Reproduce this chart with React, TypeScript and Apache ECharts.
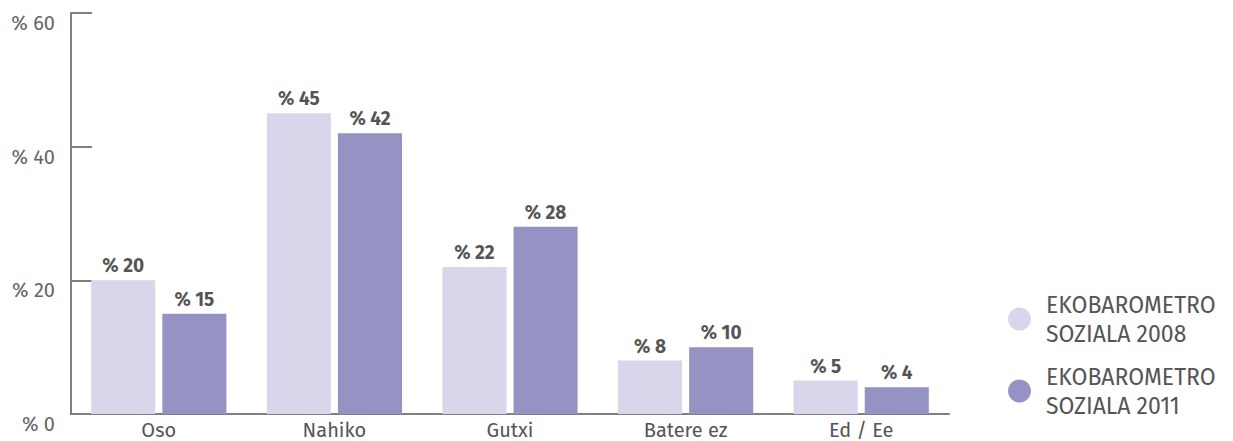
import React, { useEffect, useRef } from "react";
import * as echarts from "echarts";

const categories = ["Oso", "Nahiko", "Gutxi", "Batere ez", "Ed / Ee"];
const series2008 = [20, 45, 22, 8, 5];
const series2011 = [15, 42, 28, 10, 4];
const seriesNames = ["EKOBAROMETRO\nSOZIALA 2008", "EKOBAROMETRO\nSOZIALA 2011"];
const colors = ["#d8d6ea", "#9493c3"];

export default function App() {
  const ref = useRef<HTMLDivElement>(null);
  useEffect(() => {
    if (!ref.current) return;
    const chart = echarts.init(ref.current, null, { renderer: "svg" });
    const font = "'Fira Sans', 'Open Sans', sans-serif";
    const label = {
      show: true,
      position: "top",
      distance: 5,
      formatter: (p: any) => "% " + p.value,
      fontFamily: font,
      fontWeight: "bold",
      fontSize: 19,
      color: "#555555",
    };
    chart.setOption({
      animation: false,
      grid: { left: 71, right: 284, top: 13, bottom: 27, containLabel: false },
      legend: {
        orient: "vertical",
        left: 1008,
        top: 290,
        padding: 0,
        itemWidth: 23,
        itemHeight: 23,
        itemGap: 14,
        icon: "circle",
        textStyle: {
          fontFamily: font,
          fontSize: 23,
          color: "#555555",
          lineHeight: 29,
          padding: [0, 0, 0, 10],
        },
        data: seriesNames,
      },
      xAxis: {
        type: "category",
        data: categories,
        axisLine: { lineStyle: { color: "#7f7f7f", width: 2 } },
        axisTick: { show: false },
        axisLabel: { fontFamily: font, fontSize: 20, color: "#555555", margin: 6 },
      },
      yAxis: {
        type: "value",
        min: 0,
        max: 60,
        interval: 20,
        splitLine: { show: false },
        axisLine: { show: true, lineStyle: { color: "#7f7f7f", width: 2 } },
        axisTick: { show: true, inside: true, length: 21, lineStyle: { color: "#7f7f7f", width: 2 } },
        axisLabel: {
          fontFamily: font,
          fontSize: 20,
          color: "#666666",
          margin: 16,
          verticalAlign: "top",
          formatter: (v: number) => "% " + v,
        },
      },
      series: [
        {
          name: seriesNames[0],
          type: "bar",
          data: series2008,
          itemStyle: { color: colors[0] },
          barGap: "11%",
          barCategoryGap: "23%",
          label,
        },
        {
          name: seriesNames[1],
          type: "bar",
          data: series2011,
          itemStyle: { color: colors[1] },
          barGap: "11%",
          barCategoryGap: "23%",
          label,
        },
      ],
    });
    return () => chart.dispose();
  }, []);
  return <div ref={ref} style={{ width: 1233, height: 441, position: "absolute", left: 0, top: 0 }} />;
}
